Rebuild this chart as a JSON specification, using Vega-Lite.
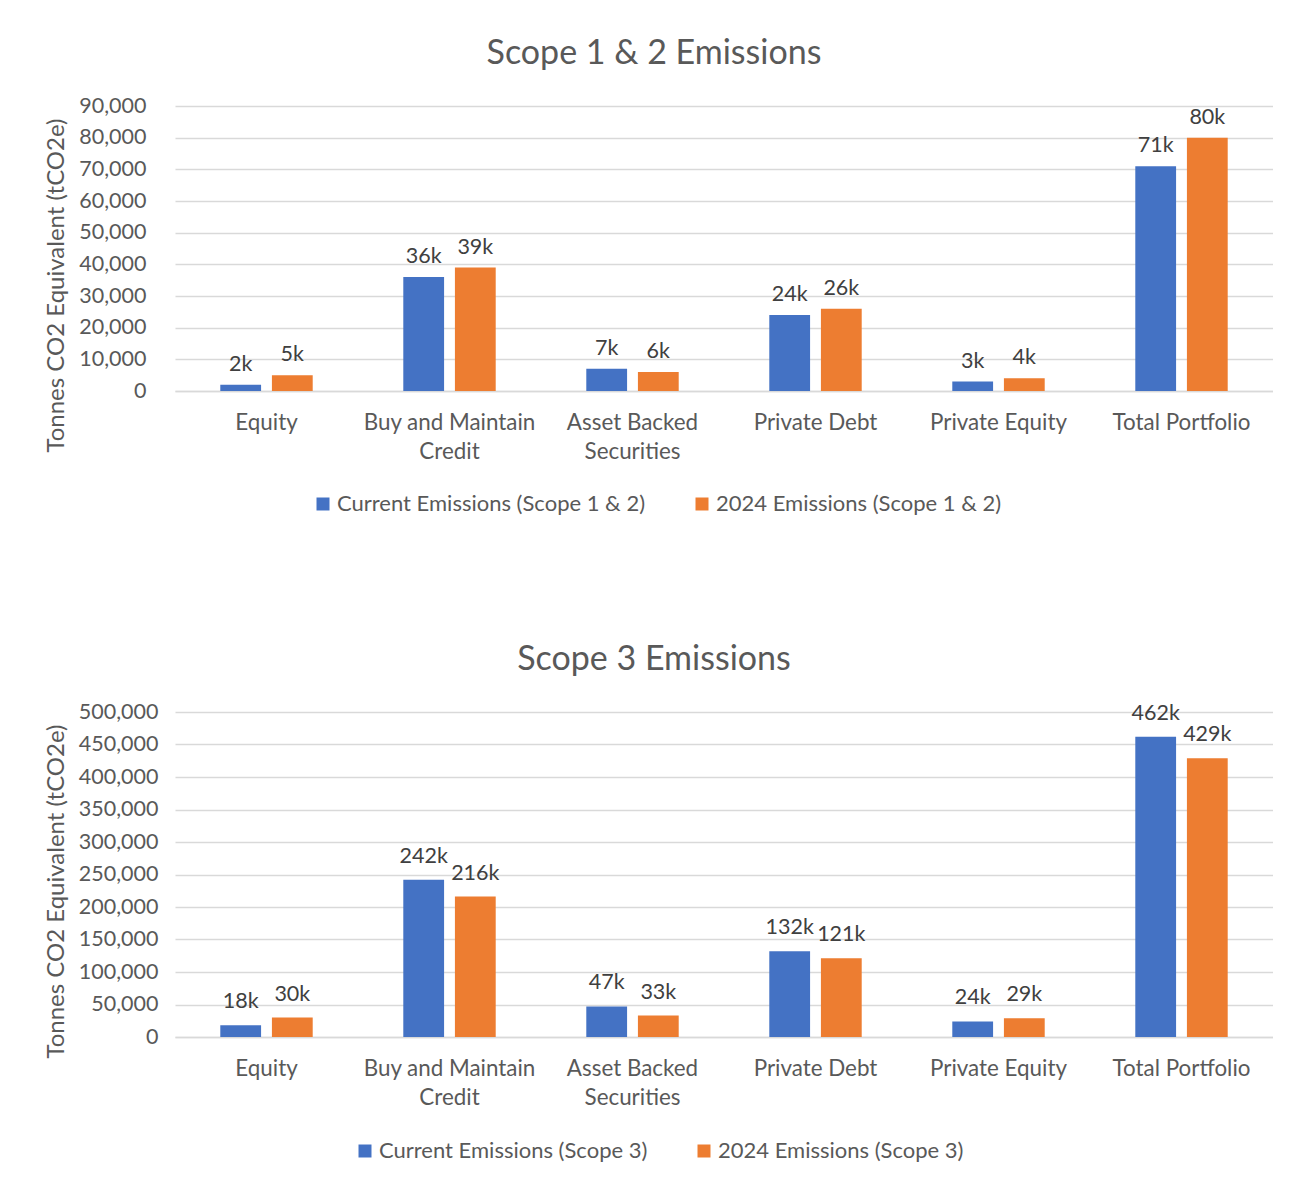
{
  "$schema": "https://vega.github.io/schema/vega-lite/v6.json",
  "background": "white",
  "padding": {"left": 44, "top": 37, "right": 0, "bottom": 0},
  "spacing": 128,
  "config": {
    "font": "Lato",
    "view": {"stroke": null},
    "title": {"fontSize": 34, "fontWeight": "normal", "color": "#595959", "anchor": "middle", "offset": 24, "dx": -70},
    "axis": {
      "labelFont": "Lato", "titleFont": "Lato",
      "labelColor": "#595959", "titleColor": "#595959",
      "labelFontSize": 21.5, "titleFontSize": 24, "titleFontWeight": "normal",
      "gridColor": "#D9D9D9", "gridWidth": 1.5,
      "domainColor": "#D9D9D9", "domainWidth": 1.5,
      "ticks": false
    },
    "legend": {"labelFont": "Lato", "labelFontSize": 22, "labelColor": "#595959", "labelLimit": 600},
    "bar": {"stroke": null}
  },
  "vconcat": [
    {
      "title": "Scope 1 & 2 Emissions",
      "width": 1098,
      "height": 285,
      "data": {"values": [
        {"category": "Equity", "series": "Current Emissions (Scope 1 & 2)", "value": 2000},
        {"category": "Equity", "series": "2024 Emissions (Scope 1 & 2)", "value": 5000},
        {"category": "Buy and Maintain Credit", "series": "Current Emissions (Scope 1 & 2)", "value": 36000},
        {"category": "Buy and Maintain Credit", "series": "2024 Emissions (Scope 1 & 2)", "value": 39000},
        {"category": "Asset Backed Securities", "series": "Current Emissions (Scope 1 & 2)", "value": 7000},
        {"category": "Asset Backed Securities", "series": "2024 Emissions (Scope 1 & 2)", "value": 6000},
        {"category": "Private Debt", "series": "Current Emissions (Scope 1 & 2)", "value": 24000},
        {"category": "Private Debt", "series": "2024 Emissions (Scope 1 & 2)", "value": 26000},
        {"category": "Private Equity", "series": "Current Emissions (Scope 1 & 2)", "value": 3000},
        {"category": "Private Equity", "series": "2024 Emissions (Scope 1 & 2)", "value": 4000},
        {"category": "Total Portfolio", "series": "Current Emissions (Scope 1 & 2)", "value": 71000},
        {"category": "Total Portfolio", "series": "2024 Emissions (Scope 1 & 2)", "value": 80000}
      ]},
      "encoding": {
        "x": {
          "field": "category", "type": "nominal", "sort": null,
          "scale": {"paddingInner": 0.495, "paddingOuter": 0.2475},
          "axis": {
            "title": null, "labelAngle": 0, "labelPadding": 31, "labelLimit": 400,
            "labelLineHeight": 29, "labelBaseline": "middle", "labelFontSize": 22.4,
            "labelExpr": "datum.label == 'Buy and Maintain Credit' ? ['Buy and Maintain', 'Credit'] : datum.label == 'Asset Backed Securities' ? ['Asset Backed', 'Securities'] : datum.label"
          }
        },
        "xOffset": {
          "field": "series", "type": "nominal",
          "sort": ["Current Emissions (Scope 1 & 2)", "2024 Emissions (Scope 1 & 2)"],
          "scale": {"paddingInner": 0.21, "paddingOuter": 0}
        },
        "y": {
          "field": "value", "type": "quantitative",
          "scale": {"domain": [0, 90000], "nice": false},
          "axis": {
            "title": "Tonnes CO2 Equivalent (tCO2e)", "format": ",d",
            "values": [0, 10000, 20000, 30000, 40000, 50000, 60000, 70000, 80000, 90000],
            "domain": false, "labelPadding": 29, "titlePadding": 10, "titleY": 179
          }
        },
        "color": {
          "field": "series", "type": "nominal",
          "sort": ["Current Emissions (Scope 1 & 2)", "2024 Emissions (Scope 1 & 2)"],
          "scale": {"range": ["#4472C4", "#ED7D31"]},
          "legend": {
            "title": null, "orient": "none", "direction": "horizontal",
            "legendX": 137, "legendY": 387, "symbolType": "square", "symbolSize": 169,
            "symbolStrokeWidth": 0, "columnPadding": 45, "labelOffset": 3
          }
        }
      },
      "layer": [
        {"mark": {"type": "bar"}},
        {
          "mark": {"type": "text", "baseline": "bottom", "dy": -9, "fontSize": 21.5},
          "encoding": {
            "text": {"field": "value", "type": "quantitative", "format": "~s"},
            "color": {"value": "#404040"}
          }
        }
      ]
    },
    {
      "title": "Scope 3 Emissions",
      "width": 1098,
      "height": 325,
      "data": {"values": [
        {"category": "Equity", "series": "Current Emissions (Scope 3)", "value": 18000},
        {"category": "Equity", "series": "2024 Emissions (Scope 3)", "value": 30000},
        {"category": "Buy and Maintain Credit", "series": "Current Emissions (Scope 3)", "value": 242000},
        {"category": "Buy and Maintain Credit", "series": "2024 Emissions (Scope 3)", "value": 216000},
        {"category": "Asset Backed Securities", "series": "Current Emissions (Scope 3)", "value": 47000},
        {"category": "Asset Backed Securities", "series": "2024 Emissions (Scope 3)", "value": 33000},
        {"category": "Private Debt", "series": "Current Emissions (Scope 3)", "value": 132000},
        {"category": "Private Debt", "series": "2024 Emissions (Scope 3)", "value": 121000},
        {"category": "Private Equity", "series": "Current Emissions (Scope 3)", "value": 24000},
        {"category": "Private Equity", "series": "2024 Emissions (Scope 3)", "value": 29000},
        {"category": "Total Portfolio", "series": "Current Emissions (Scope 3)", "value": 462000},
        {"category": "Total Portfolio", "series": "2024 Emissions (Scope 3)", "value": 429000}
      ]},
      "encoding": {
        "x": {
          "field": "category", "type": "nominal", "sort": null,
          "scale": {"paddingInner": 0.495, "paddingOuter": 0.2475},
          "axis": {
            "title": null, "labelAngle": 0, "labelPadding": 31, "labelLimit": 400,
            "labelLineHeight": 29, "labelBaseline": "middle", "labelFontSize": 22.4,
            "labelExpr": "datum.label == 'Buy and Maintain Credit' ? ['Buy and Maintain', 'Credit'] : datum.label == 'Asset Backed Securities' ? ['Asset Backed', 'Securities'] : datum.label"
          }
        },
        "xOffset": {
          "field": "series", "type": "nominal",
          "sort": ["Current Emissions (Scope 3)", "2024 Emissions (Scope 3)"],
          "scale": {"paddingInner": 0.21, "paddingOuter": 0}
        },
        "y": {
          "field": "value", "type": "quantitative",
          "scale": {"domain": [0, 500000], "nice": false},
          "axis": {
            "title": "Tonnes CO2 Equivalent (tCO2e)", "format": ",d",
            "values": [0, 50000, 100000, 150000, 200000, 250000, 300000, 350000, 400000, 450000, 500000],
            "domain": false, "labelPadding": 17, "titlePadding": 10, "titleY": 179
          }
        },
        "color": {
          "field": "series", "type": "nominal",
          "sort": ["Current Emissions (Scope 3)", "2024 Emissions (Scope 3)"],
          "scale": {"range": ["#4472C4", "#ED7D31"]},
          "legend": {
            "title": null, "orient": "none", "direction": "horizontal",
            "legendX": 179, "legendY": 428, "symbolType": "square", "symbolSize": 169,
            "symbolStrokeWidth": 0, "columnPadding": 45, "labelOffset": 3
          }
        }
      },
      "layer": [
        {"mark": {"type": "bar"}},
        {
          "mark": {"type": "text", "baseline": "bottom", "dy": -12, "fontSize": 21.5},
          "encoding": {
            "text": {"field": "value", "type": "quantitative", "format": "~s"},
            "color": {"value": "#404040"}
          }
        }
      ]
    }
  ],
  "resolve": {
    "scale": {"x": "independent", "xOffset": "independent", "y": "independent", "color": "independent"},
    "axis": {"x": "independent", "y": "independent"},
    "legend": {"color": "independent"}
  }
}
